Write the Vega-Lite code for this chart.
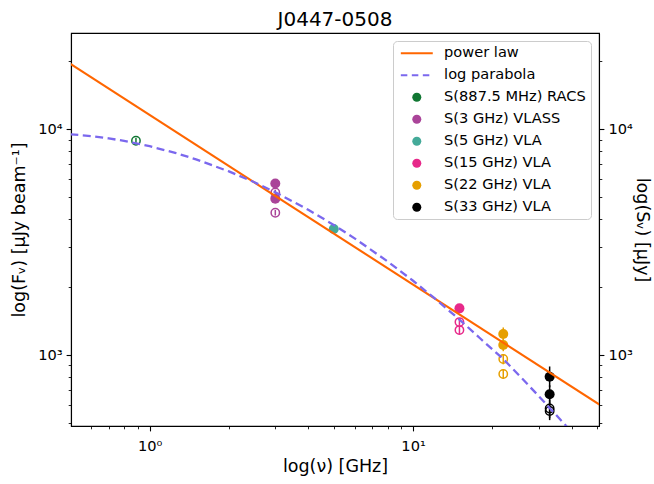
{
  "$schema": "https://vega.github.io/schema/vega-lite/v6.json",
  "width": 528,
  "height": 393,
  "autosize": {"type": "none"},
  "padding": {"left": 71, "top": 33, "right": 55, "bottom": 58},
  "background": "white",
  "config": {
    "font": "DejaVu Sans",
    "view": {"stroke": "black", "strokeWidth": 1.1},
    "axis": {
      "grid": false,
      "domainColor": "black",
      "domainWidth": 1.1,
      "tickColor": "black",
      "labelColor": "black",
      "titleColor": "black",
      "labelFont": "DejaVu Sans",
      "titleFont": "DejaVu Sans",
      "labelFontSize": 14.6,
      "titleFontSize": 17.5,
      "titleFontWeight": "normal",
      "labelOverlap": false,
      "labelFlush": false
    }
  },
  "title": {
    "text": "J0447-0508",
    "font": "DejaVu Sans",
    "fontSize": 20,
    "fontWeight": "normal",
    "color": "black",
    "anchor": "middle",
    "frame": "group",
    "baseline": "alphabetic",
    "offset": 7,
    "dy": 20
  },
  "datasets": {
    "pts": [
      {"nu": 0.8875, "S": 8900, "lo": 8650, "hi": 9150, "series": "S(887.5 MHz) RACS", "kind": "open"},
      {"nu": 3, "S": 5750, "lo": 5600, "hi": 5900, "series": "S(3 GHz) VLASS", "kind": "filled"},
      {"nu": 3, "S": 5250, "lo": 5100, "hi": 5400, "series": "S(3 GHz) VLASS", "kind": "open"},
      {"nu": 3, "S": 4930, "lo": 4800, "hi": 5070, "series": "S(3 GHz) VLASS", "kind": "filled"},
      {"nu": 3, "S": 4270, "lo": 4150, "hi": 4390, "series": "S(3 GHz) VLASS", "kind": "open"},
      {"nu": 5, "S": 3620, "lo": 3540, "hi": 3700, "series": "S(5 GHz) VLA", "kind": "filled"},
      {"nu": 15, "S": 1610, "lo": 1550, "hi": 1680, "series": "S(15 GHz) VLA", "kind": "filled"},
      {"nu": 15, "S": 1400, "lo": 1350, "hi": 1455, "series": "S(15 GHz) VLA", "kind": "open"},
      {"nu": 15, "S": 1290, "lo": 1235, "hi": 1345, "series": "S(15 GHz) VLA", "kind": "open"},
      {"nu": 22, "S": 1240, "lo": 1160, "hi": 1325, "series": "S(22 GHz) VLA", "kind": "filled"},
      {"nu": 22, "S": 1107, "lo": 1040, "hi": 1175, "series": "S(22 GHz) VLA", "kind": "filled"},
      {"nu": 22, "S": 960, "lo": 910, "hi": 1010, "series": "S(22 GHz) VLA", "kind": "open"},
      {"nu": 22, "S": 824, "lo": 785, "hi": 865, "series": "S(22 GHz) VLA", "kind": "open"},
      {"nu": 33, "S": 802, "lo": 720, "hi": 890, "series": "S(33 GHz) VLA", "kind": "filled"},
      {"nu": 33, "S": 671, "lo": 610, "hi": 735, "series": "S(33 GHz) VLA", "kind": "filled"},
      {"nu": 33, "S": 580, "lo": 525, "hi": 635, "series": "S(33 GHz) VLA", "kind": "open"},
      {"nu": 33, "S": 565, "lo": 515, "hi": 615, "series": "S(33 GHz) VLA", "kind": "open"}
    ],
    "pl": [
      {"nu": 0.5, "S": 19484, "series": "power law"},
      {"nu": 51, "S": 603, "series": "power law"}
    ],
    "lp": [
      {"nu": 0.5, "S": 9508, "series": "log parabola"},
      {"nu": 0.6, "S": 9329, "series": "log parabola"},
      {"nu": 0.7, "S": 9113, "series": "log parabola"},
      {"nu": 0.8, "S": 8882, "series": "log parabola"},
      {"nu": 1, "S": 8414, "series": "log parabola"},
      {"nu": 1.25, "S": 7864, "series": "log parabola"},
      {"nu": 1.5, "S": 7361, "series": "log parabola"},
      {"nu": 2, "S": 6511, "series": "log parabola"},
      {"nu": 2.5, "S": 5824, "series": "log parabola"},
      {"nu": 3, "S": 5263, "series": "log parabola"},
      {"nu": 4, "S": 4401, "series": "log parabola"},
      {"nu": 5, "S": 3771, "series": "log parabola"},
      {"nu": 6, "S": 3288, "series": "log parabola"},
      {"nu": 8, "S": 2600, "series": "log parabola"},
      {"nu": 10, "S": 2133, "series": "log parabola"},
      {"nu": 12, "S": 1795, "series": "log parabola"},
      {"nu": 15, "S": 1436, "series": "log parabola"},
      {"nu": 18, "S": 1184, "series": "log parabola"},
      {"nu": 22, "S": 960, "series": "log parabola"},
      {"nu": 26, "S": 785, "series": "log parabola"},
      {"nu": 30, "S": 658, "series": "log parabola"},
      {"nu": 33, "S": 583, "series": "log parabola"},
      {"nu": 36, "S": 522, "series": "log parabola"},
      {"nu": 40, "S": 456, "series": "log parabola"},
      {"nu": 45, "S": 390, "series": "log parabola"},
      {"nu": 51, "S": 329, "series": "log parabola"}
    ]
  },
  "encoding": {
    "x": {
      "field": "nu",
      "type": "quantitative",
      "scale": {"type": "log", "domain": [0.503, 50.8], "nice": false},
      "axis": {
        "title": "log(ν) [GHz]",
        "values": [0.5, 0.6, 0.7, 0.8, 0.9, 1, 2, 3, 4, 5, 6, 7, 8, 9, 10, 20, 30, 40, 50],
        "labelExpr": "datum.value == 1 ? '10⁰' : datum.value == 10 ? '10¹' : ''",
        "tickSize": {"condition": {"test": "datum.value == 1 || datum.value == 10", "value": 4.9}, "value": 2.8},
        "tickWidth": {"condition": {"test": "datum.value == 1 || datum.value == 10", "value": 1.1}, "value": 0.85},
        "labelPadding": 8,
        "titlePadding": 4
      }
    },
    "color": {
      "field": "series",
      "type": "nominal",
      "scale": {
        "domain": ["power law", "log parabola", "S(887.5 MHz) RACS", "S(3 GHz) VLASS", "S(5 GHz) VLA", "S(15 GHz) VLA", "S(22 GHz) VLA", "S(33 GHz) VLA"],
        "range": ["#ff6600", "#7b68ee", "#117733", "#aa4499", "#44aa99", "#e7298a", "#e69f00", "#000000"]
      },
      "legend": {
        "title": null,
        "orient": "top-right",
        "offset": 8,
        "padding": 5,
        "labelFont": "DejaVu Sans",
        "labelFontSize": 14.6,
        "labelColor": "black",
        "symbolSize": 81,
        "symbolOffset": 11.5,
        "labelOffset": 20,
        "rowPadding": 7,
        "fillColor": "rgba(255,255,255,0.8)",
        "strokeColor": "#cccccc",
        "cornerRadius": 4,
        "encode": {
          "symbols": {
            "update": {
              "shape": {"signal": "datum.value === 'power law' || datum.value === 'log parabola' ? 'M-3.55,0H3.55' : 'circle'"},
              "fill": {"signal": "datum.value === 'power law' || datum.value === 'log parabola' ? 'transparent' : scale('color', datum.value)"},
              "stroke": {"signal": "scale('color', datum.value)"},
              "strokeWidth": {"signal": "datum.value === 'power law' || datum.value === 'log parabola' ? 2.1 : 0"},
              "strokeDash": {"signal": "datum.value === 'log parabola' ? [6.5, 4.5] : []"},
              "opacity": {"value": 1}
            }
          }
        }
      }
    }
  },
  "layer": [
    {
      "data": {"name": "pts"},
      "transform": [{"filter": "datum.kind == 'open'"}],
      "mark": {"type": "point", "filled": false, "size": 70, "strokeWidth": 1.5, "opacity": 1},
      "encoding": {
        "y": {
          "field": "S",
          "type": "quantitative",
          "scale": {"type": "log", "domain": [485, 26700], "nice": false},
          "axis": {
            "orient": "right",
            "title": "log(Sᵥ) [μJy]",
            "values": [500, 600, 700, 800, 900, 1000, 2000, 3000, 4000, 5000, 6000, 7000, 8000, 9000, 10000, 20000],
            "labelExpr": "datum.value == 1000 ? '10³' : datum.value == 10000 ? '10⁴' : ''",
            "tickSize": {"condition": {"test": "datum.value == 1000 || datum.value == 10000", "value": 4.9}, "value": 2.8},
            "tickWidth": {"condition": {"test": "datum.value == 1000 || datum.value == 10000", "value": 1.1}, "value": 0.85},
            "labelPadding": 4,
            "titlePadding": 0
          }
        }
      }
    },
    {
      "encoding": {
        "y": {
          "field": "S",
          "type": "quantitative",
          "scale": {"type": "log", "domain": [485, 26700], "nice": false},
          "axis": {
            "orient": "left",
            "title": "log(Fᵥ) [μJy beam⁻¹]",
            "values": [500, 600, 700, 800, 900, 1000, 2000, 3000, 4000, 5000, 6000, 7000, 8000, 9000, 10000, 20000],
            "labelExpr": "datum.value == 1000 ? '10³' : datum.value == 10000 ? '10⁴' : ''",
            "tickSize": {"condition": {"test": "datum.value == 1000 || datum.value == 10000", "value": 4.9}, "value": 2.8},
            "tickWidth": {"condition": {"test": "datum.value == 1000 || datum.value == 10000", "value": 1.1}, "value": 0.85},
            "labelPadding": 4,
            "titlePadding": 9
          }
        }
      },
      "layer": [
        {
          "data": {"name": "pts"},
          "mark": {"type": "rule", "strokeWidth": 1.5},
          "encoding": {
            "y": {"field": "lo", "type": "quantitative"},
            "y2": {"field": "hi"}
          }
        },
        {
          "data": {"name": "pts"},
          "transform": [{"filter": "datum.kind == 'filled'"}],
          "mark": {"type": "point", "filled": true, "size": 100, "opacity": 1}
        },
        {
          "data": {"name": "pl"},
          "mark": {"type": "line", "strokeWidth": 2.1, "clip": true}
        },
        {
          "data": {"name": "lp"},
          "mark": {"type": "line", "strokeWidth": 2.3, "strokeDash": [8, 4.5], "clip": true}
        }
      ]
    }
  ],
  "resolve": {"scale": {"y": "independent"}}
}
